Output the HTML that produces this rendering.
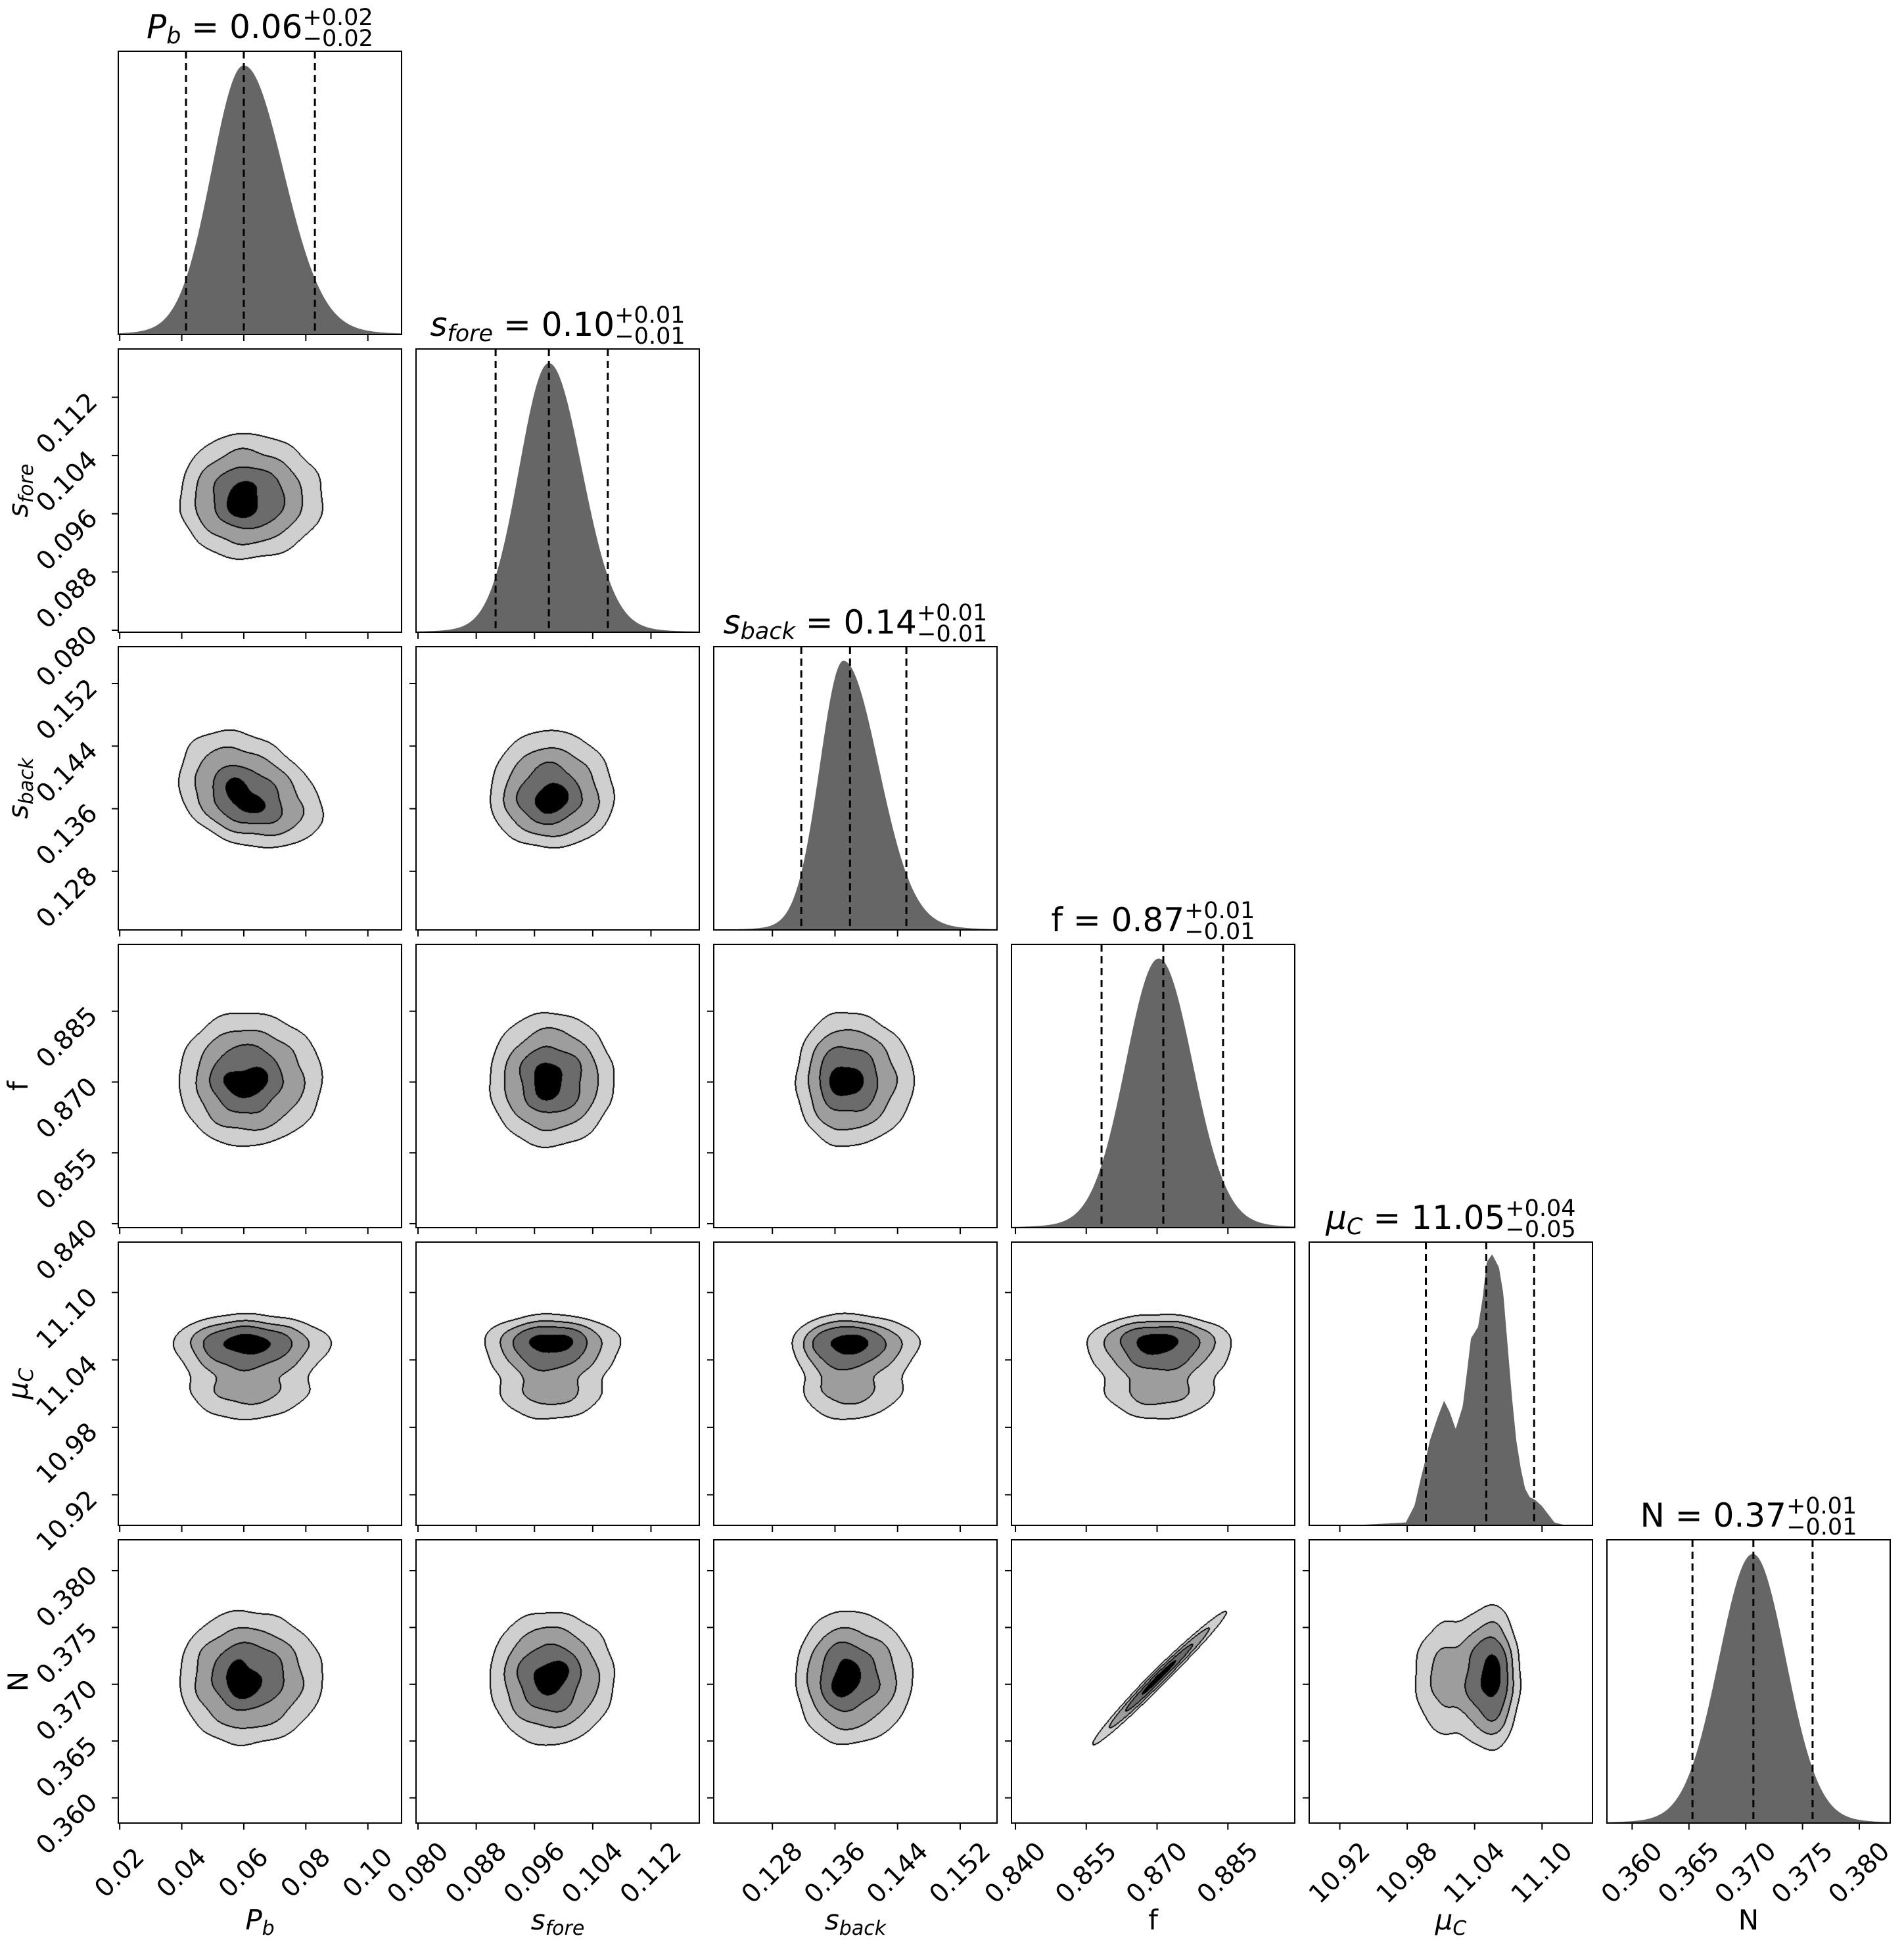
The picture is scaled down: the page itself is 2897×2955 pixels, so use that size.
<!DOCTYPE html>
<html><head><meta charset="utf-8"><style>
body{margin:0;background:#fff;width:2897px;height:2955px;overflow:hidden;position:relative}
canvas{position:absolute}
svg{position:absolute;left:0;top:0}
</style></head><body>
<svg id="s" width="2897" height="2955" xmlns="http://www.w3.org/2000/svg" font-family="DejaVu Sans, Liberation Sans, sans-serif">
<g id="g"></g>
<text x="395.5" y="58" font-size="50" text-anchor="middle"><tspan font-style="italic">P</tspan><tspan font-style="italic" font-size="35" dy="8">b</tspan><tspan dy="-8"> = 0.06</tspan><tspan font-size="35" dy="-20">+0.02</tspan><tspan font-size="35" dx="-107" dy="32">−0.02</tspan></text>
<text x="848.5" y="511" font-size="50" text-anchor="middle"><tspan font-style="italic">s</tspan><tspan font-style="italic" font-size="35" dy="8">fore</tspan><tspan dy="-8"> = 0.10</tspan><tspan font-size="35" dy="-20">+0.01</tspan><tspan font-size="35" dx="-107" dy="32">−0.01</tspan></text>
<text x="1301.5" y="964" font-size="50" text-anchor="middle"><tspan font-style="italic">s</tspan><tspan font-style="italic" font-size="35" dy="8">back</tspan><tspan dy="-8"> = 0.14</tspan><tspan font-size="35" dy="-20">+0.01</tspan><tspan font-size="35" dx="-107" dy="32">−0.01</tspan></text>
<text x="1754.5" y="1417" font-size="50" text-anchor="middle"><tspan>f = 0.87</tspan><tspan font-size="35" dy="-20">+0.01</tspan><tspan font-size="35" dx="-107" dy="32">−0.01</tspan></text>
<text x="2207.5" y="1870" font-size="50" text-anchor="middle"><tspan font-style="italic">μ</tspan><tspan font-style="italic" font-size="35" dy="8">C</tspan><tspan dy="-8"> = 11.05</tspan><tspan font-size="35" dy="-20">+0.04</tspan><tspan font-size="35" dx="-107" dy="32">−0.05</tspan></text>
<text x="2660.5" y="2323" font-size="50" text-anchor="middle"><tspan>N = 0.37</tspan><tspan font-size="35" dy="-20">+0.01</tspan><tspan font-size="35" dx="-107" dy="32">−0.01</tspan></text>
<g font-size="42" text-anchor="middle">
<text x="395.5" y="2936"><tspan font-style="italic">P</tspan><tspan font-style="italic" font-size="30" dy="8">b</tspan></text>
<text x="848.5" y="2936"><tspan font-style="italic">s</tspan><tspan font-style="italic" font-size="30" dy="8">fore</tspan></text>
<text x="1301.5" y="2936"><tspan font-style="italic">s</tspan><tspan font-style="italic" font-size="30" dy="8">back</tspan></text>
<text x="1754.5" y="2936">f</text>
<text x="2207.5" y="2936"><tspan font-style="italic">μ</tspan><tspan font-style="italic" font-size="30" dy="8">C</tspan></text>
<text x="2660.5" y="2936">N</text>
<text transform="translate(42,746.5) rotate(-90)"><tspan font-style="italic">s</tspan><tspan font-style="italic" font-size="30" dy="8">fore</tspan></text>
<text transform="translate(42,1199.5) rotate(-90)"><tspan font-style="italic">s</tspan><tspan font-style="italic" font-size="30" dy="8">back</tspan></text>
<text transform="translate(42,1652.5) rotate(-90)">f</text>
<text transform="translate(42,2105.5) rotate(-90)"><tspan font-style="italic">μ</tspan><tspan font-style="italic" font-size="30" dy="8">C</tspan></text>
<text transform="translate(42,2558.5) rotate(-90)">N</text>
</g>
</svg>
<script>
(function(){
var NS="http://www.w3.org/2000/svg";
var S=431;
function L(j){return 180+453*j;}
function T(i){return 78+453*i;}
var g=document.getElementById("g");
function el(n,a,p){var e=document.createElementNS(NS,n);for(var k in a)e.setAttribute(k,a[k]);(p||g).appendChild(e);return e;}
var P=[
 {c:.443,lo:.204/1.8,hi:.251/1.8,t0:.005,dt:.219,labs:["0.02","0.04","0.06","0.08","0.10"],q:[.239,.443,.694]},
 {c:.469,lo:.188/1.8,hi:.208/1.8,t0:.007,dt:.2056,labs:["0.080","0.088","0.096","0.104","0.112"],q:[.281,.469,.677]},
 {c:.458,lo:.15/1.8,hi:.222/1.8,t0:.207,dt:.221,labs:["0.128","0.136","0.144","0.152"],q:[.309,.481,.680]},
 {c:.52,lo:.21/1.8,hi:.215/1.8,t0:.014,dt:.25,labs:["0.840","0.855","0.870","0.885"],q:[.318,.536,.747]},
 {mix:[[.648,.045,1],[.57,.035,.35],[.48,.045,.38],[.80,.03,.07],[.40,.04,.1]],t0:.108,dt:.238,labs:["10.92","10.98","11.04","11.10"],q:[.412,.625,.794]},
 {c:.515,lo:.215/1.8,hi:.209/1.8,t0:.089,dt:.2005,labs:["0.360","0.365","0.370","0.375","0.380"],q:[.302,.517,.726]}
];
function g1(p,t){
 if(p.mix){var s=0;for(var k=0;k<p.mix.length;k++){var m=p.mix[k];var a=(t-m[0])/m[1];s+=m[2]*Math.exp(-.5*a*a);}return s;}
 var a=(t-p.c)/(t<p.c?p.lo:p.hi);return Math.exp(-.5*a*a)+0.02*Math.exp(-.5*(a/2.2)*(a/2.2));
}
function ns(p,t){return (t-p.c)/(t<p.c?p.lo:p.hi);}
var rho={"2_0":-0.3,"5_3":0.986};
var muPts=[[0,0],[.17,.001],[.341,.01],[.372,.07],[.395,.17],[.415,.25],[.426,.3],[.453,.38],[.476,.44],[.496,.40],[.517,.34],[.542,.42],[.558,.55],[.571,.66],[.596,.70],[.612,.80],[.627,.93],[.646,.957],[.670,.91],[.685,.82],[.700,.64],[.716,.45],[.731,.3],[.747,.2],[.762,.13],[.778,.1],[.797,.09],[.820,.07],[.843,.04],[.866,.01],[.905,0],[1,0]];
function muH(t){for(var k=1;k<muPts.length;k++){if(t<=muPts[k][0]){var a=muPts[k-1],b=muPts[k];return a[1]+(b[1]-a[1])*(t-a[0])/(b[0]-a[0]);}}return 0;}
var masses=[.865,.675,.393,.118];
var cols=[[255,255,255,0],[207,207,207,255],[157,157,157,255],[107,107,107,255],[0,0,0,255]];
var FS=39;
for(var i=0;i<6;i++){for(var j=0;j<=i;j++){
 var x0=L(j),y0=T(i),k;
 if(i==j){
  var d="M"+x0+","+(y0+S);var gm=0,h=[];
  for(k=0;k<=S;k++){var t=k/S;var v=(i==4)?muH(t):g1(P[i],t);h.push(v);if(v>gm)gm=v;}
  for(k=0;k<=S;k++){var hh=(i==4)?h[k]*S:h[k]/gm*0.95*S;d+=" L"+(x0+k)+","+(y0+S-hh).toFixed(1);}
  d+=" L"+(x0+S)+","+(y0+S)+" Z";
  el("path",{d:d,fill:"#666"});
  P[i].q.forEach(function(q){var xx=x0+q*S;el("line",{x1:xx,x2:xx,y1:y0,y2:y0+S,stroke:"#000","stroke-width":3,"stroke-dasharray":"11 7"});});
 } else {
  var cv=document.createElement("canvas");cv.width=S;cv.height=S;cv.style.left=x0+"px";cv.style.top=y0+"px";
  document.body.insertBefore(cv,document.getElementById("s"));
  var px=P[j],py=P[i],r=rho[i+"_"+j]||0;
  var f1=i*1.7+j*2.3,f2=i*0.9+j*3.1,f3=i*2.9+j*0.4;
  var D=new Float64Array(S*S),tot=0;
  for(var yy=0;yy<S;yy++){var fy=1-(yy+.5)/S;for(var xx2=0;xx2<S;xx2++){var fx=(xx2+.5)/S;var v;
   if(px.mix||py.mix){v=g1(px,fx)*g1(py,fy);}
   else{var a=ns(px,fx),b=ns(py,fy);v=Math.exp(-.5*(a*a-2*r*a*b+b*b)/(1-r*r));}
   if(r<0.9){v*=1+0.11*(Math.sin(fx*43+f1)+Math.sin(fy*47+f2)+Math.sin((fx-fy)*37+f3)+Math.sin((fx+fy)*29+f1*f2))/4;}
   D[yy*S+xx2]=v;tot+=v;}}
  var sorted=Array.prototype.slice.call(D).sort(function(a,b){return b-a;});
  var cum=0,thr=[0,0,0,0],targets=[masses[3]*tot,masses[2]*tot,masses[1]*tot,masses[0]*tot],ti=0;
  for(k=0;k<sorted.length&&ti<4;k++){cum+=sorted[k];while(ti<4&&cum>=targets[ti]){thr[ti]=sorted[k];ti++;}}
  var lev=new Uint8Array(S*S);
  for(k=0;k<S*S;k++){var v=D[k],n=0;if(v>=thr[3])n=1;if(v>=thr[2])n=2;if(v>=thr[1])n=3;if(v>=thr[0])n=4;lev[k]=n;}
  var ctx=cv.getContext("2d");var im=ctx.createImageData(S,S);var dd=im.data;
  for(k=0;k<S*S;k++){var c=cols[lev[k]];dd[4*k]=c[0];dd[4*k+1]=c[1];dd[4*k+2]=c[2];dd[4*k+3]=c[3];}
  for(var yy=0;yy<S;yy++)for(var xx2=0;xx2<S;xx2++){var k0=yy*S+xx2;var e=false;
   if(xx2+1<S&&lev[k0+1]!=lev[k0])e=true;
   if(yy+1<S&&lev[k0+S]!=lev[k0])e=true;
   if(xx2>0&&lev[k0-1]!=lev[k0])e=true;
   if(yy>0&&lev[k0-S]!=lev[k0])e=true;
   if(e){dd[4*k0]=0;dd[4*k0+1]=0;dd[4*k0+2]=0;dd[4*k0+3]=255;}}
  ctx.putImageData(im,0,0);
  py.labs.forEach(function(lb,k){var yt=y0+S-(py.t0+k*py.dt)*S;el("line",{x1:x0-10,x2:x0,y1:yt,y2:yt,stroke:"#000","stroke-width":2});
   if(j==0){var cx=x0-78,cy=yt+40;var t=el("text",{x:cx,y:cy,"font-size":FS,"text-anchor":"middle","dominant-baseline":"central",transform:"rotate(-45 "+cx+" "+cy+")"});t.textContent=lb;}});
 }
 P[j].labs.forEach(function(lb,k){var xt=x0+(P[j].t0+k*P[j].dt)*S;el("line",{x1:xt,x2:xt,y1:y0+S,y2:y0+S+10,stroke:"#000","stroke-width":2});
  if(i==5){var yc=y0+S+76;var t=el("text",{x:xt,y:yc,"font-size":FS,"text-anchor":"middle","dominant-baseline":"central",transform:"rotate(-45 "+xt+" "+yc+")"});t.textContent=lb;}});
 el("rect",{x:x0,y:y0,width:S,height:S,fill:"none",stroke:"#000","stroke-width":2});
}}
})();
</script>
</body></html>
